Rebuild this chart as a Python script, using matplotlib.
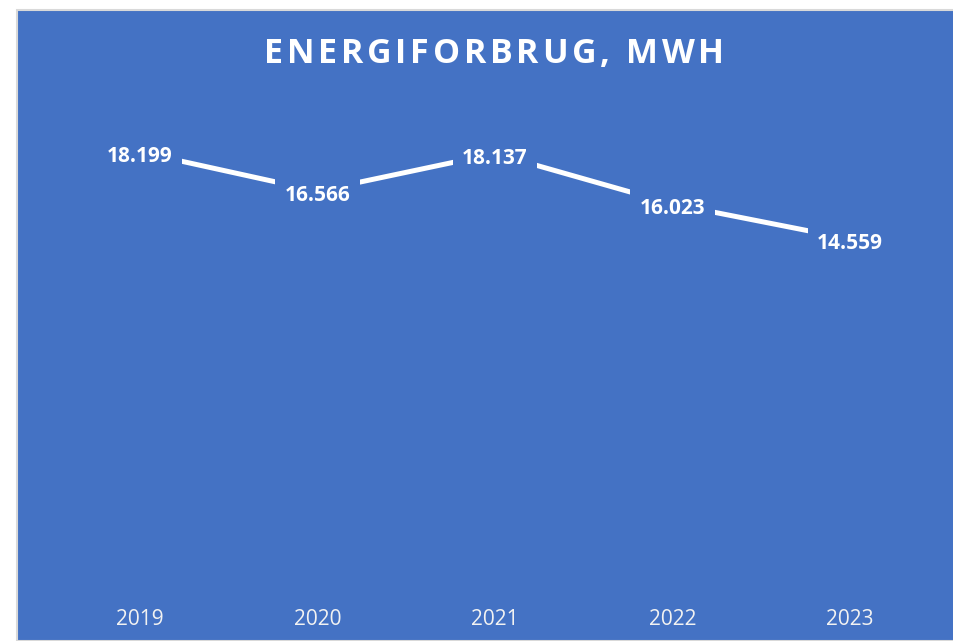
import matplotlib
matplotlib.use("Agg")
import matplotlib.pyplot as plt
from matplotlib.patches import Rectangle

years = ["2019", "2020", "2021", "2022", "2023"]
values = [18.199, 16.566, 18.137, 16.023, 14.559]
labels = ["18.199", "16.566", "18.137", "16.023", "14.559"]
title = "ENERGIFORBRUG, MWH"

blue = "#4472C4"
plt.rcParams["font.family"] = ["Open Sans", "DejaVu Sans"]

fig = plt.figure(figsize=(9.54, 6.41), dpi=100)
fig.patch.set_facecolor("white")

# chart panel
fig.patches.append(Rectangle((17 / 954, 0), 1.0, 1 - 10 / 641, transform=fig.transFigure,
                             facecolor=blue, edgecolor="#D9D9D9", linewidth=1.5, zorder=0))

ax = fig.add_axes([51 / 954, 1 - 587 / 641, 888 / 954, 478 / 641])
ax.set_zorder(2)
ax.set_facecolor("none")
x = list(range(len(years)))
ax.plot(x, values, color="white", linewidth=3.6, solid_capstyle="butt", zorder=2)

for xi, v, lab in zip(x, values, labels):
    ax.annotate(lab, (xi, v), xytext=(0, -1.5), textcoords="offset points",
                ha="center", va="center_baseline", color="white", fontsize=15,
                fontweight="bold", zorder=3,
                bbox=dict(boxstyle="square,pad=0.45", facecolor=blue, edgecolor="none"))

ax.set_xlim(-0.5, len(years) - 0.5)
ax.set_ylim(0, 20)
ax.set_xticks(x)
ax.set_xticklabels(years, color="#F2F2F2", fontsize=15)
ax.tick_params(axis="x", length=0, pad=15.5)
ax.set_yticks([])
for s in ax.spines.values():
    s.set_visible(False)

# title with letter spacing, drawn char by char
renderer = fig.canvas.get_renderer()
spacing = 3.8
chars = []
for ch in title:
    t = fig.text(0, 0, ch, ha="left", va="center", color="white", fontsize=24.5,
                 fontweight="bold", zorder=3)
    w = t.get_window_extent(renderer).width if ch.strip() else 8
    chars.append((t, w))
total = sum(w for _, w in chars) + spacing * (len(chars) - 1)
xpos = 494 - total / 2
for t, w in chars:
    t.set_position((xpos / 954, 1 - 54 / 641))
    xpos += w + spacing

fig.savefig("out.png", dpi=100)
plt.close(fig)
